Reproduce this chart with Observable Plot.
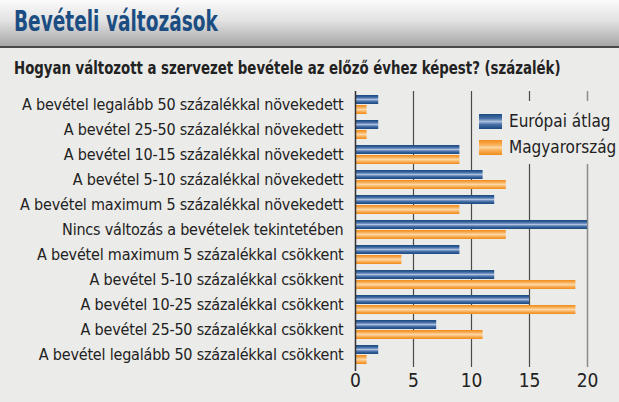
<!DOCTYPE html>
<html>
<head>
<meta charset="utf-8">
<script src="https://cdn.jsdelivr.net/npm/d3@7"></script>
<script src="https://cdn.jsdelivr.net/npm/@observablehq/plot@0.6"></script>
<style>
  html, body { margin: 0; padding: 0; }
  body { width: 619px; height: 402px; overflow: hidden; background: #ebebe9; }
  #wrap { position: relative; width: 619px; height: 402px; background: #ebebe9;
    font-family: "Liberation Sans Narrow", "DejaVu Sans Condensed", "Arial Narrow", sans-serif; }
  #titlebar { position: absolute; left: 0; top: 0; width: 619px; height: 46px;
    background: linear-gradient(to bottom, #fbfbfb 0%, #e2e2e2 45%, #a6a6a6 100%);
    border-bottom: 2px solid #4a4a4a; }
  #title { position: absolute; left: 14px; top: 4px; font-size: 29px; font-weight: bold; color: #1b4d82;
    white-space: nowrap; transform: scaleX(0.71); transform-origin: left center; }
  #subtitle { position: absolute; left: 14px; top: 58px; font-size: 17px; font-weight: bold; color: #222;
    white-space: nowrap; transform: scaleX(0.87); transform-origin: left center; }
  #chart { position: absolute; left: 0; top: 85px; }
  #legend { position: absolute; left: 474px; top: 101px; width: 140px; height: 63px; background: #ebebe9; }
  .li { position: absolute; left: 5px; height: 16px; display: flex; align-items: center; font-size: 17px; color: #222; white-space: nowrap; }
  .sw { width: 23px; height: 15px; margin-right: 7px; }
  .ylab text { letter-spacing: -0.2px; }
</style>
</head>
<body>
<div id="wrap">
  <div id="titlebar"><div id="title">Bevételi változások</div></div>
  <div id="subtitle">Hogyan változott a szervezet bevétele az előző évhez képest? (százalék)</div>
  <div id="chart"></div>
  <div id="legend">
    <div class="li" style="top:12px"><div class="sw" style="background:linear-gradient(to bottom,#1b4a80,#4670a8 30%,#a9bedb 50%,#4670a8 70%,#1b4a80)"></div>Európai átlag</div>
    <div class="li" style="top:38px"><div class="sw" style="background:linear-gradient(to bottom,#f28a1a,#f9b560 35%,#fdd6a4 50%,#f9b560 65%,#f28a1a)"></div>Magyarország</div>
  </div>
</div>
<script>
const categories = [
  "A bevétel legalább 50 százalékkal növekedett",
  "A bevétel 25-50 százalékkal növekedett",
  "A bevétel 10-15 százalékkal növekedett",
  "A bevétel 5-10 százalékkal növekedett",
  "A bevétel maximum 5 százalékkal növekedett",
  "Nincs változás a bevételek tekintetében",
  "A bevétel maximum 5 százalékkal csökkent",
  "A bevétel 5-10 százalékkal csökkent",
  "A bevétel 10-25 százalékkal csökkent",
  "A bevétel 25-50 százalékkal csökkent",
  "A bevétel legalább 50 százalékkal csökkent"
];
const europe = [2, 2, 9, 11, 12, 20, 9, 12, 15, 7, 2];
const hungary = [1, 1, 9, 13, 9, 13, 4, 19, 19, 11, 1];
const xTicks = [0, 5, 10, 15, 20];

const dataEU = categories.map((c, i) => ({category: c, value: europe[i]}));
const dataHU = categories.map((c, i) => ({category: c, value: hungary[i]}));

const plot = Plot.plot({
  width: 619,
  height: 317,
  marginLeft: 355,
  marginRight: 32,
  marginTop: 6,
  marginBottom: 35,
  style: {background: "transparent", fontFamily: "'Liberation Sans Narrow', 'DejaVu Sans Condensed', sans-serif", fontSize: "16px", color: "#222"},
  x: {domain: [0, 20], ticks: xTicks, label: null},
  y: {domain: categories, paddingInner: 0.24, paddingOuter: 0.12, label: null},
  marks: [
    Plot.ruleX([5, 10, 15], {stroke: "#4a4a4a", strokeWidth: 1.2}),
    Plot.ruleX([20], {stroke: "#8a8a8a", strokeWidth: 1.5}),
    Plot.barX(dataEU, {x: "value", y: "category", fill: "url(#gradBlue)", insetBottom: 10}),
    Plot.barX(dataHU, {x: "value", y: "category", fill: "url(#gradOrange)", insetTop: 10}),
    Plot.ruleY([0], {frameAnchor: "bottom", stroke: "#8a8a8a", strokeWidth: 1.5}),
    Plot.ruleX([0], {stroke: "#333", strokeWidth: 1.5, insetBottom: -4}),
    Plot.axisX({ticks: xTicks, tickSize: 0, tickPadding: 6, fontSize: 19, label: null, stroke: "#333"}),
    Plot.axisY({tickSize: 0, tickPadding: 12, fontSize: 16, label: null, className: "ylab"})
  ]
});

const ns = "http://www.w3.org/2000/svg";
const defs = document.createElementNS(ns, "defs");
function grad(id, stops) {
  const g = document.createElementNS(ns, "linearGradient");
  g.setAttribute("id", id);
  g.setAttribute("x1", "0"); g.setAttribute("y1", "0");
  g.setAttribute("x2", "0"); g.setAttribute("y2", "1");
  stops.forEach(([o, c]) => {
    const s = document.createElementNS(ns, "stop");
    s.setAttribute("offset", o);
    s.setAttribute("stop-color", c);
    g.appendChild(s);
  });
  defs.appendChild(g);
}
grad("gradBlue", [[0, "#1b4a80"], [0.15, "#2a5890"], [0.35, "#5b80b5"], [0.5, "#aec2de"], [0.65, "#5b80b5"], [0.85, "#2a5890"], [1, "#1b4a80"]]);
grad("gradOrange", [[0, "#f28a1a"], [0.2, "#f6a443"], [0.5, "#fdd6a4"], [0.8, "#f6a443"], [1, "#f28a1a"]]);
plot.insertBefore(defs, plot.firstChild);
document.getElementById("chart").appendChild(plot);
</script>
</body>
</html>
